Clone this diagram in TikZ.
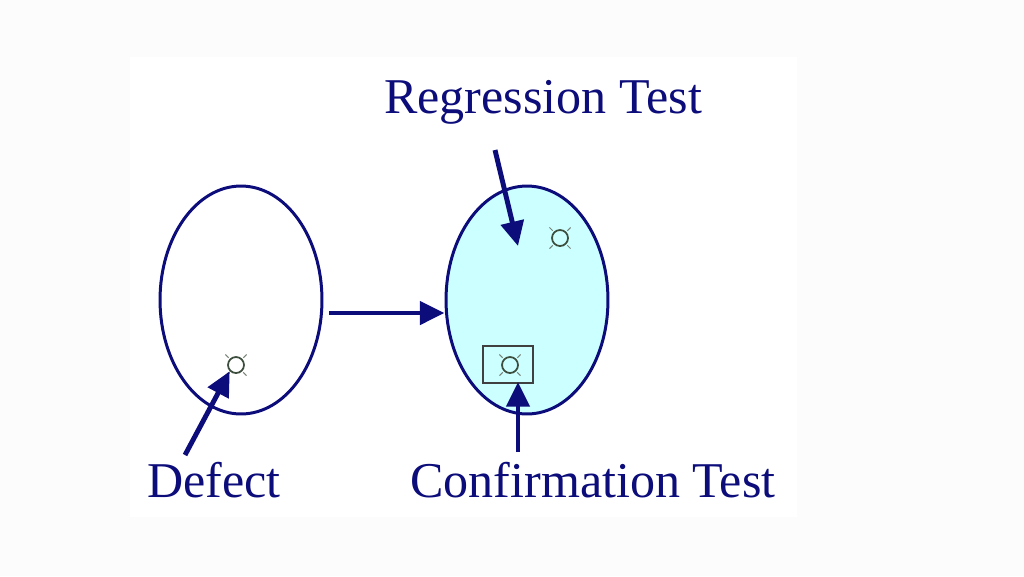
\documentclass[tikz,border=0pt]{standalone}
\usepackage{fontspec}
\setmainfont{Liberation Serif}
\usetikzlibrary{shapes.geometric,arrows.meta}

\definecolor{navy}{HTML}{0C0C7A}
\definecolor{lightcyan}{HTML}{CCFFFF}
\definecolor{markgray}{HTML}{3E4E3E}

\tikzset{
  setbox/.style={ellipse, draw=navy, line width=1.7pt, minimum width=3.24cm, minimum height=4.56cm},
  label/.style={text=navy, font=\fontsize{28.5}{30}\selectfont, inner sep=0pt, anchor=base},
  pointer/.style={draw=navy, line width=2.8pt, -{Triangle[length=14pt,width=13pt]}},
  defectmark/.style={circle, draw=markgray, line width=1pt, minimum size=0.32cm, inner sep=0pt},
}

\begin{document}
\begin{tikzpicture}[x=0.02cm, y=-0.02cm]

  % page and white area
  \fill[black!1] (0,0) rectangle (1024,576);
  \fill[white] (130,57) rectangle (797,517);

  % the two sets
  \node[setbox] (before) at (241,300) {};
  \node[setbox, fill=lightcyan] (after) at (527,300) {};

  % defects
  \node[defectmark] (d1) at (236,365) {};
  \node[defectmark] (r1) at (560,238) {};
  \node[defectmark] (c1) at (510,365) {};
  \foreach \m in {d1,r1,c1}
    \foreach \a in {45,135,225,315}
      \draw[markgray!70, line width=0.6pt] (\m.\a) ++(\a:0.03cm) -- ++(\a:0.09cm);
  \draw[black!75, line width=0.9pt] (483,346) rectangle (533,383);
  \coordinate (cbox) at (518,382);

  % labels
  \node[label] (reg) at (543,113) {Regression Test};
  \node[label] (defect) at (214,497) {Defect};
  \node[label] (conf) at (593,497) {Confirmation Test};

  % arrows
  \coordinate (regtail) at (495,150);
  \coordinate (reghead) at (518,246);
  \coordinate (deftail) at (185,455);
  \coordinate (conftail) at (518,452);

  \draw[pointer] (before.east) ++(6,13) -- ([yshift=-13*0.02cm]after.west);
  \draw[pointer] (regtail) -- (reghead);
  \draw[pointer] (deftail) -- (d1.south west);
  \draw[pointer] (conftail) -- (cbox);

\end{tikzpicture}
\end{document}
